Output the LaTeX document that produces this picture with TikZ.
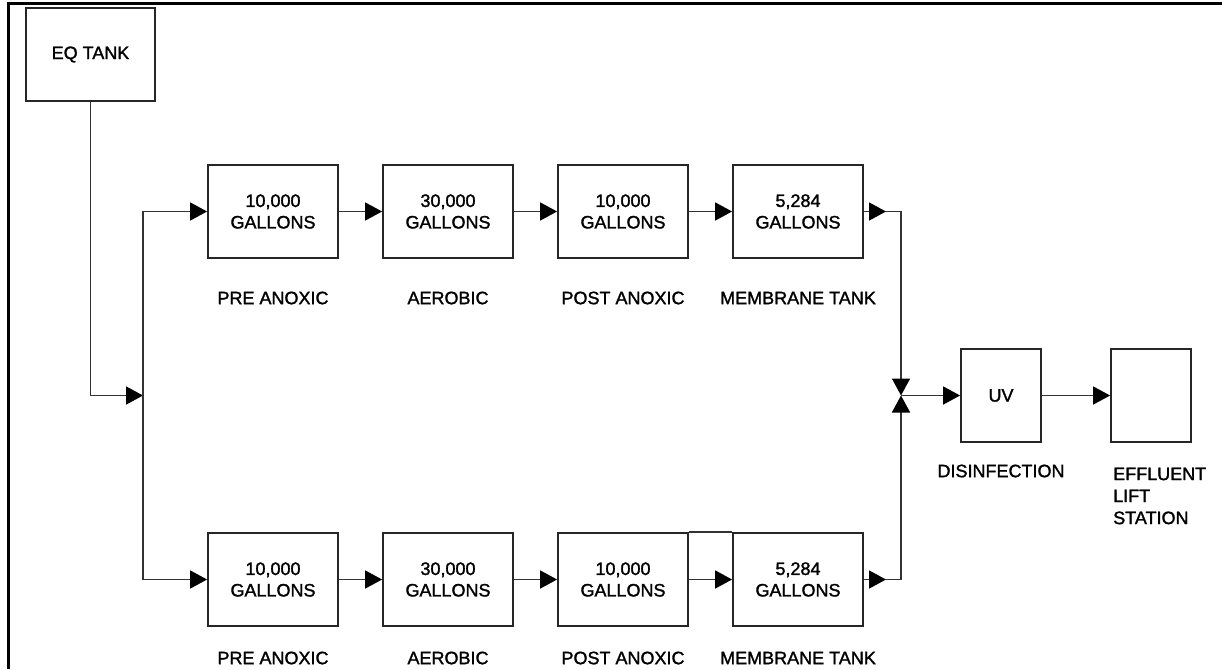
\documentclass[tikz,border=0pt]{standalone}
\usepackage{fontspec}
\setmainfont{Liberation Sans}[FakeBold=1.5]
\usetikzlibrary{arrows.meta}
\begin{document}
\begin{tikzpicture}[x=1pt,y=-1pt,
  tank/.style={draw=black!85, line width=1.8pt, minimum width=130pt, minimum height=93pt,
    inner sep=0pt, align=center, font=\fontsize{18}{21.5}\selectfont},
  smalltank/.style={tank, minimum width=80pt},
  lbl/.style={font=\fontsize{18}{22}\selectfont, inner sep=0pt},
  pipe/.style={draw=black!80, line width=1.6pt},
  flow/.style={pipe, -{Triangle[length=17pt,width=18pt,color=black]}}]
\useasboundingbox (0,0) rectangle (1222,669);
% frame
\draw[line width=3pt] (1222,4) -- (8.5,4) -- (8.5,669);
% nodes
\node[tank, minimum width=129pt] (eq) at (90.5,54.5) {EQ TANK};
\node[tank] (t1) at (273,211.5) {10,000\\GALLONS};
\node[tank] (t2) at (448,211.5) {30,000\\GALLONS};
\node[tank] (t3) at (623,211.5) {10,000\\GALLONS};
\node[tank] (t4) at (798,211.5) {5,284\\GALLONS};
\node[tank] (b1) at (273,579.5) {10,000\\GALLONS};
\node[tank] (b2) at (448,579.5) {30,000\\GALLONS};
\node[tank] (b3) at (623,579.5) {10,000\\GALLONS};
\node[tank] (b4) at (798,579.5) {5,284\\GALLONS};
\node[smalltank] (uv) at (1001,395.5) {UV};
\node[smalltank] (eff) at (1151,395.5) {};
% labels
\node[lbl] (lt1) at (273,298) {PRE ANOXIC};
\node[lbl] (lt2) at (448,298) {AEROBIC};
\node[lbl] (lt3) at (623,298) {POST ANOXIC};
\node[lbl] (lt4) at (798,298) {MEMBRANE TANK};
\node[lbl] (lb1) at (273,658) {PRE ANOXIC};
\node[lbl] (lb2) at (448,658) {AEROBIC};
\node[lbl] (lb3) at (623,658) {POST ANOXIC};
\node[lbl] (lb4) at (798,658) {MEMBRANE TANK};
\node[lbl] (ldis) at (1001,471) {DISINFECTION};
\node[lbl, align=left, anchor=west] (leff) at (1113,496) {EFFLUENT\\LIFT\\STATION};
% coordinates
\coordinate (split) at (143,395.5);
\coordinate (merge) at (901,395.5);
\coordinate (a4) at (886,211.5);
\coordinate (c4) at (886,579.5);
% connectors
\draw[flow] (eq.south) |- (split);
\draw[flow] (split) |- (t1.west);
\draw[flow] (split) |- (b1.west);
\draw[flow] (t1.east) -- (t2.west);
\draw[flow] (t2.east) -- (t3.west);
\draw[flow] (t3.east) -- (t4.west);
\draw[flow] (b1.east) -- (b2.west);
\draw[flow] (b2.east) -- (b3.west);
\draw[flow] (b3.east) -- (b4.west);
\draw[pipe, line width=1.8pt] (b3.north east) -- (b4.north west);
\draw[flow] (t4.east) -- (a4);
\draw[flow] (b4.east) -- (c4);
\draw[flow] (a4) -| (merge);
\draw[flow] (c4) -| (merge);
\draw[flow] (merge) -- (uv.west);
\draw[flow] (uv.east) -- (eff.west);
\end{tikzpicture}
\end{document}
